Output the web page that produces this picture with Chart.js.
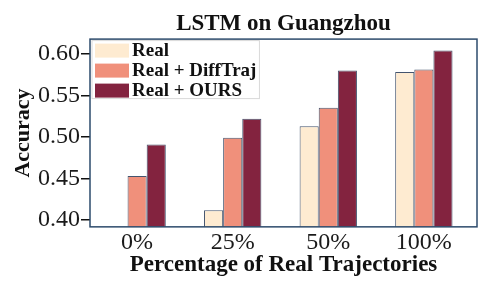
<!DOCTYPE html>
<html>
<head>
<meta charset="utf-8">
<script src="https://cdn.jsdelivr.net/npm/chart.js@4.4.1/dist/chart.umd.min.js"></script>
<style>
  html, body { margin: 0; padding: 0; background: #fff; }
</style>
</head>
<body>
<canvas id="acc" width="478" height="291"></canvas>
<script>
// values
const categories = ["0%", "25%", "50%", "100%"];
const realVals = [null, 0.412, 0.513, 0.578];
const diffTrajVals = [0.453, 0.499, 0.535, 0.581];
const oursVals = [0.491, 0.522, 0.580, 0.604];
const yTicks = [0.40, 0.45, 0.50, 0.55, 0.60];

const serif = "'Liberation Serif', 'Times New Roman', serif";
const edge = "#44546e";

// box round the plot area, like matplotlib's spines
const frame = {
  id: "frame",
  afterDatasetsDraw(chart) {
    const a = chart.chartArea;
    const ctx = chart.ctx;
    ctx.save();
    ctx.strokeStyle = "#2d4b6c";
    ctx.lineWidth = 1.5;
    ctx.strokeRect(a.left, a.top, a.right - a.left, a.bottom - a.top);
    ctx.restore();
  }
};

// legend drawn inside the plot, top left
const innerLegend = {
  id: "innerLegend",
  afterDraw(chart) {
    const a = chart.chartArea;
    const ctx = chart.ctx;
    const x0 = a.left + 5, y0 = a.top + 4.5, rowH = 20;
    ctx.save();
    ctx.font = "bold 19px " + serif;
    ctx.textBaseline = "middle";
    let maxW = 0;
    chart.data.datasets.forEach((ds) => { maxW = Math.max(maxW, ctx.measureText(ds.label).width); });
    ctx.strokeStyle = "#d9d9d9";
    ctx.lineWidth = 1;
    ctx.strokeRect(a.left + 2, a.top + 1.5, 34 + 3 + maxW + 6, rowH * 3 - 2);
    chart.data.datasets.forEach((ds, i) => {
      const y = y0 + i * rowH;
      ctx.fillStyle = ds.backgroundColor;
      ctx.fillRect(x0, y, 34, 14);
      ctx.fillStyle = "#111";
      ctx.fillText(ds.label, x0 + 37, y + 7.5);
    });
    ctx.restore();
  }
};

new Chart(document.getElementById("acc"), {
  type: "bar",
  data: {
    labels: categories.map((c, i) => i),
    datasets: [
      { label: "Real", data: realVals, backgroundColor: "#feebd1" },
      { label: "Real + DiffTraj", data: diffTrajVals, backgroundColor: "#f0907b" },
      { label: "Real + OURS", data: oursVals, backgroundColor: "#83233f" },
    ],
  },
  options: {
    responsive: false,
    animation: false,
    layout: { padding: { left: 12, right: 1, top: 0, bottom: 19.5 } },
    datasets: {
      bar: {
        borderColor: edge,
        borderWidth: 1,
        borderSkipped: false,
        categoryPercentage: 0.6,
        barPercentage: 1.0,
      },
    },
    scales: {
      x: {
        type: "linear",
        offset: false,
        min: -0.493,
        max: 3.556,
        afterBuildTicks: (s) => { s.ticks = categories.map((c, i) => ({ value: i })); },
        grid: { display: false, drawTicks: false, offset: false },
        border: { display: false },
        ticks: {
          padding: 4,
          color: "#1a1a1a",
          font: { family: serif, size: 24, lineHeight: 1 },
          callback: (v) => categories[v],
        },
        title: {
          display: true,
          text: "Percentage of Real Trajectories",
          color: "#111",
          padding: { top: 0, bottom: 0 },
          font: { family: serif, size: 23, weight: "bold", lineHeight: 0.55 },
        },
      },
      y: {
        min: 0.392,
        max: 0.6176,
        afterBuildTicks: (s) => { s.ticks = yTicks.map((v) => ({ value: v })); },
        grid: { drawOnChartArea: false, drawTicks: true, tickLength: 9, color: "#111", lineWidth: 1.5 },
        border: { display: false },
        ticks: {
          padding: 1,
          color: "#1a1a1a",
          font: { family: serif, size: 24, lineHeight: 1 },
          callback: (v) => v.toFixed(2),
        },
        title: {
          display: true,
          text: "Accuracy",
          color: "#111",
          padding: { top: 0, bottom: 3 },
          font: { family: serif, size: 22, weight: "bold", lineHeight: 1 },
        },
      },
    },
    plugins: {
      title: {
        display: true,
        fullSize: false,
        text: "LSTM on Guangzhou",
        color: "#111",
        padding: { top: 10, bottom: 1.5 },
        font: { family: serif, size: 23, weight: "bold", lineHeight: 1.2 },
      },
      legend: { display: false },
      tooltip: { enabled: false },
    },
  },
  plugins: [frame, innerLegend],
});
</script>
</body>
</html>
